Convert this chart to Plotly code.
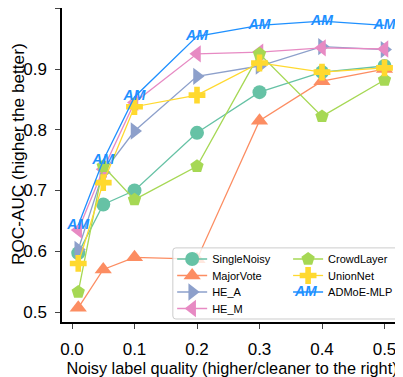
import plotly.graph_objects as go

x_vals = [0.01, 0.05, 0.1, 0.2, 0.3, 0.4, 0.5]

single_noisy = [0.597, 0.677, 0.700, 0.795, 0.862, 0.895, 0.905]
major_vote = [0.507, 0.570, 0.590, 0.587, 0.815, 0.880, 0.900]
he_a = [0.603, 0.730, 0.798, 0.888, 0.905, 0.937, 0.932]
he_m = [0.635, 0.735, 0.845, 0.925, 0.928, 0.935, 0.933]
crowd_layer = [0.533, 0.740, 0.685, 0.740, 0.925, 0.822, 0.882]
union_net = [0.580, 0.713, 0.838, 0.857, 0.910, 0.895, 0.902]
admoe_mlp = [0.643, 0.750, 0.854, 0.954, 0.972, 0.979, 0.972]

FONT = "Liberation Sans, Arial, sans-serif"
AM_COLOR = "#1e90ff"

# legend columns / rows (paper coords) - one small legend per entry so rows sit tight
col_x = [0.324, 0.665]
row_y = [0.2468, 0.1943, 0.1417, 0.0892]
series = [
    ("SingleNoisy", single_noisy, "#66c2a5", "circle", 14, 0, 0),
    ("MajorVote", major_vote, "#fc8d62", "triangle-up", 15, 0, 1),
    ("HE_A", he_a, "#8da0cb", "triangle-right", 15, 0, 2),
    ("HE_M", he_m, "#e78ac3", "triangle-left", 15, 0, 3),
    ("CrowdLayer", crowd_layer, "#a6d854", "pentagon", 14, 1, 0),
    ("UnionNet", union_net, "#ffd92f", "cross", 14, 1, 1),
]

fig = go.Figure()
legends = {}
for i, (name, ys, color, sym, size, c, r) in enumerate(series):
    key = "legend" if i == 0 else f"legend{i + 1}"
    legends[key] = dict(x=col_x[c], y=row_y[r], xanchor="left", yanchor="top",
                        bgcolor="rgba(0,0,0,0)", font=dict(size=11))
    fig.add_trace(go.Scatter(
        x=x_vals, y=ys, name=name, mode="lines+markers",
        line=dict(color=color, width=1.3),
        marker=dict(symbol=sym, size=size, color=color),
        legend=key,
    ))

legends["legend7"] = dict(x=col_x[1], y=row_y[2], xanchor="left", yanchor="top",
                          bgcolor="rgba(0,0,0,0)", font=dict(size=11))
fig.add_trace(go.Scatter(
    x=x_vals, y=admoe_mlp, name="ADMoE-MLP", mode="lines+text",
    text=["<b><i>AM</i></b>"] * len(x_vals), textposition="middle center",
    textfont=dict(color=AM_COLOR, size=14, family=FONT),
    line=dict(color=AM_COLOR, width=1.3),
    legend="legend7",
))

# legend frame with rounded corners
x0, x1, y0, y1 = 0.326, 0.994, 0.0096, 0.236
rx, ry = 0.0088, 0.0096
frame = (f"M {x0 + rx},{y0} L {x1 - rx},{y0} Q {x1},{y0} {x1},{y0 + ry} "
         f"L {x1},{y1 - ry} Q {x1},{y1} {x1 - rx},{y1} L {x0 + rx},{y1} "
         f"Q {x0},{y1} {x0},{y1 - ry} L {x0},{y0 + ry} Q {x0},{y0} {x0 + rx},{y0} Z")
fig.add_shape(type="path", xref="paper", yref="paper", path=frame,
              line=dict(color="#cccccc", width=1), fillcolor="rgba(255,255,255,0.8)",
              layer="above")
# "AM" glyph for the legend entry
fig.add_annotation(xref="paper", yref="paper", x=0.715, y=0.0987,
                   xanchor="center", yanchor="middle",
                   text="<b><i>AM</i></b>", showarrow=False,
                   font=dict(color=AM_COLOR, size=14, family=FONT))
# y axis title (placed by hand, close to the page edge)
fig.add_annotation(xref="paper", yref="paper", x=-0.1295, y=0.535,
                   xanchor="center", yanchor="middle", textangle=-90,
                   text="ROC-AUC (higher the better)", showarrow=False,
                   font=dict(size=17.2, family=FONT, color="black"))

fig.update_layout(
    width=395, height=369,
    margin=dict(l=54, r=1, t=0, b=55),
    plot_bgcolor="white", paper_bgcolor="white",
    font=dict(family=FONT, color="black"),
    showlegend=True,
    **legends,
)
fig.update_xaxes(
    range=[-0.016, 0.528], tickvals=[0, 0.1, 0.2, 0.3, 0.4, 0.5],
    ticktext=["0.0", "0.1", "0.2", "0.3", "0.4", "0.5"],
    showgrid=False, zeroline=False, showline=True, mirror=True, automargin=False,
    linecolor="black", linewidth=1.5, ticks="outside", ticklen=5, tickwidth=1.2,
    tickfont=dict(size=17), ticklabelstandoff=6,
    title=dict(text="Noisy label quality (higher/cleaner to the right)",
               font=dict(size=16.3)),
)
fig.update_yaxes(
    range=[0.4836, 1.0005], tickvals=[0.5, 0.6, 0.7, 0.8, 0.9, 1.0],
    ticktext=["0.5", "0.6", "0.7", "0.8", "0.9", "1.0"],
    showgrid=False, zeroline=False, showline=True, mirror=True, automargin=False,
    linecolor="black", linewidth=1.5, ticks="outside", ticklen=5, tickwidth=1.2,
    tickfont=dict(size=17), ticklabelstandoff=5,
)

fig.write_html("out.html")
